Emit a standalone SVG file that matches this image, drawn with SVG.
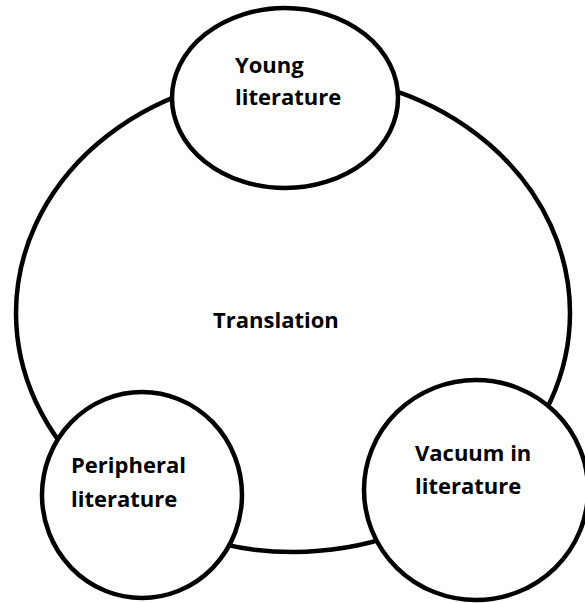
<svg xmlns="http://www.w3.org/2000/svg" width="585" height="603" viewBox="0 0 585 603">
<style>
.shape{fill:#fff;stroke:#000;stroke-width:4.5}
.big{fill:none;stroke:#000;stroke-width:4.5}
.lbl{font-family:"Open Sans","Liberation Sans",sans-serif;font-weight:bold;font-size:22px;fill:#000}
</style>
<rect width="585" height="603" fill="#fff"/>
<g id="translation">
<ellipse class="big" cx="293" cy="313" rx="277" ry="239"/>
<text class="lbl" x="213" y="328">Translation</text>
</g>
<g id="young-literature">
<ellipse class="shape" cx="285" cy="98" rx="113" ry="90"/>
<text class="lbl" x="235" y="73">Young</text>
<text class="lbl" x="235" y="105">literature</text>
</g>
<g id="peripheral-literature">
<ellipse class="shape" cx="142" cy="495" rx="100" ry="103"/>
<text class="lbl" x="71" y="473">Peripheral</text>
<text class="lbl" x="71" y="507">literature</text>
</g>
<g id="vacuum-in-literature">
<ellipse class="shape" cx="476" cy="490" rx="112" ry="110"/>
<text class="lbl" x="415" y="461">Vacuum in</text>
<text class="lbl" x="415" y="494">literature</text>
</g>
</svg>
